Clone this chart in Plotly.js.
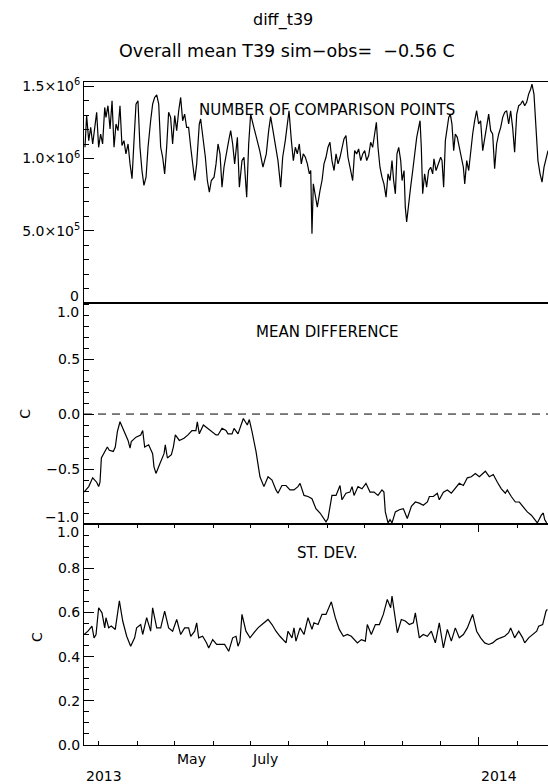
<!DOCTYPE html>
<html>
<head>
<meta charset="utf-8">
<script src="https://cdn.plot.ly/plotly-3.0.1.min.js"></script>
<style>
  html, body { margin: 0; padding: 0; background: #fff; }
  #chart { width: 548px; height: 784px; }
</style>
</head>
<body>
<div id="chart"></div>
<script>
// ---------------- DATA ----------------
// Series start date (day offsets below are counted from this date)
const seriesStart = '2013-02-17';
const axisEndDay = 373.9;

// Panel 1: number of comparison points (millions)
const countDays = [0.8,2.1,3.8,5.4,7.0,8.6,10.2,11.8,13.4,15.0,16.7,17.7,19.3,21.0,22.6,24.2,25.8,27.4,29.0,30.6,32.2,33.8,35.5,37.1,38.7,40.3,41.9,43.5,45.1,46.7,48.3,50.0,51.6,53.7,55.3,56.9,58.6,60.2,61.8,63.4,65.0,66.6,68.2,69.8,71.4,73.1,74.7,76.3,77.9,79.5,81.1,82.7,84.3,86.0,87.6,89.2,90.8,92.9,94.0,96.2,97.8,99.4,101.0,102.6,104.8,106.4,108.0,109.6,111.2,112.8,115.0,116.6,118.2,119.8,121.4,123.6,125.2,
  127.3,128.9,130.0,131.1,132.7,134.3,136.2,138.9,141.6,144.2,146.9,148.8,150.4,152.3,154.2,156.3,158.5,160.1,162.2,163.9,165.2,167.1,168.7,170.3,171.9,173.5,175.1,176.7,178.4,180.0,181.6,182.7,183.7,184.8,186.4,188.0,190.2,191.8,193.4,195.0,196.6,198.2,199.8,201.5,203.1,204.7,206.3,207.9,209.5,211.1,212.7,214.9,216.5,218.1,219.7,221.3,223.0,224.6,226.2,227.8,229.4,231.0,232.6,234.2,235.6,236.9,238.5,240.1,241.7,243.4,245.0,246.6,248.2,
  249.5,250.9,252.2,253.6,255.2,256.3,257.9,258.9,260.0,261.6,263.2,264.9,266.5,268.1,269.7,270.8,271.8,272.9,274.5,276.1,277.7,279.4,281.0,282.0,283.7,285.8,287.4,288.5,289.8,291.2,292.5,293.9,295.2,296.5,297.9,299.2,300.8,302.5,304.1,305.7,306.8,308.4,310.0,311.6,313.2,314.8,316.4,318.0,319.6,321.3,322.9,324.5,326.1,327.7,329.3,330.9,332.5,334.2,335.8,337.4,339.0,340.6,342.2,343.8,345.4,347.0,348.7,350.3,351.9,353.5,355.1,356.7,358.3,359.9,361.0,362.6,363.7,364.8,365.8,367.5,369.1,370.7,372.3,373.9];
const countMillions = [1.078,1.297,1.124,1.216,1.101,1.193,1.320,1.078,1.170,1.101,1.354,1.285,1.366,1.205,1.400,1.078,1.239,1.193,1.366,1.090,1.124,1.032,1.101,0.963,0.860,1.124,1.377,1.400,1.078,0.917,0.814,0.871,1.078,1.262,1.377,1.423,1.441,1.377,1.078,1.009,0.894,1.078,1.320,1.285,1.101,1.297,1.193,1.331,1.423,1.262,1.308,1.216,1.216,1.078,0.940,0.848,0.963,1.239,1.274,1.124,1.009,0.848,0.768,0.848,0.871,0.963,1.101,1.032,0.802,0.940,1.032,1.124,1.193,1.101,0.963,1.147,0.802,
  0.986,1.009,0.894,0.733,1.101,1.308,1.239,1.147,1.055,0.940,1.032,1.193,1.290,1.193,1.078,0.986,0.802,1.009,1.124,1.239,1.331,1.124,0.986,1.078,1.032,1.101,0.963,1.032,1.009,0.963,0.894,0.917,0.480,0.825,0.733,0.664,0.779,0.848,0.963,1.009,1.078,1.113,0.986,0.917,1.032,0.963,1.009,1.078,1.136,1.159,1.009,0.917,0.848,1.055,1.032,1.067,0.986,1.032,1.055,0.986,1.021,1.113,1.078,1.170,1.251,1.078,0.940,0.871,0.825,0.733,0.894,0.848,0.986,
  0.848,0.756,1.032,1.078,0.986,0.848,0.917,0.664,0.561,0.710,0.802,0.917,1.032,1.147,1.216,1.262,1.078,0.756,0.894,0.802,0.917,0.940,0.894,0.998,0.917,0.963,1.009,0.986,0.802,1.124,1.216,1.285,1.308,1.239,1.055,1.170,1.147,1.078,1.009,0.940,0.825,0.986,0.917,1.055,1.170,1.262,1.331,1.239,1.262,1.055,1.147,1.239,1.308,1.193,1.170,0.929,1.101,1.170,1.216,1.285,1.320,1.331,1.239,1.331,1.216,1.044,1.308,1.366,1.377,1.400,1.366,1.389,1.446,1.480,1.515,1.446,1.308,1.124,0.986,0.894,0.837,0.940,1.009,1.055];

// Panel 2: mean difference (C)
const meanDays = [0.0,3.8,7.0,10.2,11.8,12.9,14.0,17.2,18.8,20.4,23.6,25.2,26.9,29.0,32.2,35.5,37.1,38.1,41.9,45.7,47.3,48.9,52.1,55.3,56.4,58.0,61.2,64.5,65.5,67.2,70.4,72.0,73.6,76.8,80.6,83.8,87.0,90.2,91.3,92.9,96.2,99.4,102.6,106.4,108.0,111.2,114.4,116.0,119.3,120.9,124.1,125.7,128.4,131.6,133.2,135.4,138.6,141.8,145.0,148.3,151.5,154.7,156.3,159.5,162.8,166.0,169.2,172.4,174.1,177.3,180.5,183.7,186.9,190.2,193.4,195.0,196.6,199.8,203.1,206.3,207.9,211.1,214.3,216.0,217.6,220.8,224.0,227.2,230.5,233.7,236.9,240.1,241.7,242.8,245.0,246.6,248.2,250.9,254.1,257.3,260.5,263.8,267.0,270.2,273.4,276.7,278.3,281.5,284.7,286.3,289.6,292.8,296.0,299.2,302.4,305.7,308.9,312.1,315.3,318.6,321.8,323.4,326.6,329.8,333.1,336.3,339.5,341.1,344.3,347.6,350.8,354.0,357.2,360.5,363.7,365.3,368.5,370.1,371.2,372.8];
const meanDiff = [-0.71,-0.66,-0.58,-0.62,-0.66,-0.62,-0.40,-0.34,-0.30,-0.33,-0.34,-0.30,-0.16,-0.07,-0.15,-0.24,-0.31,-0.25,-0.21,-0.19,-0.15,-0.30,-0.28,-0.36,-0.48,-0.54,-0.45,-0.36,-0.28,-0.40,-0.37,-0.30,-0.19,-0.24,-0.22,-0.19,-0.15,-0.15,-0.07,-0.18,-0.10,-0.13,-0.16,-0.19,-0.19,-0.13,-0.15,-0.18,-0.18,-0.13,-0.18,-0.13,-0.04,-0.10,-0.05,-0.16,-0.34,-0.57,-0.66,-0.57,-0.60,-0.69,-0.72,-0.65,-0.65,-0.69,-0.69,-0.66,-0.63,-0.74,-0.75,-0.77,-0.86,-0.90,-0.95,-0.98,-0.95,-0.74,-0.74,-0.65,-0.78,-0.72,-0.71,-0.66,-0.74,-0.66,-0.68,-0.63,-0.71,-0.71,-0.74,-0.69,-0.71,-0.89,-0.99,-0.96,-0.99,-0.89,-0.87,-0.86,-0.95,-0.84,-0.80,-0.81,-0.83,-0.80,-0.75,-0.75,-0.72,-0.78,-0.71,-0.69,-0.72,-0.68,-0.63,-0.65,-0.58,-0.57,-0.54,-0.57,-0.54,-0.52,-0.57,-0.55,-0.62,-0.68,-0.72,-0.69,-0.75,-0.80,-0.80,-0.84,-0.89,-0.92,-0.96,-0.99,-0.92,-0.90,-0.96,-0.99];

// Panel 3: standard deviation (C)
const sdDays = [0.0,3.2,6.4,8.1,9.7,11.8,14.5,16.7,17.7,19.9,22.0,25.2,28.5,31.2,34.4,37.6,40.8,42.4,45.7,47.3,50.5,53.7,55.3,58.6,61.8,65.0,68.2,71.4,74.7,77.9,81.1,84.3,86.0,89.2,90.8,92.4,95.6,98.8,100.5,103.7,106.9,110.1,113.3,116.6,119.8,122.5,124.1,125.7,127.3,130.5,133.8,137.0,140.2,143.4,146.7,148.3,151.5,154.7,157.9,161.2,162.8,164.4,167.6,169.2,170.8,174.1,177.3,180.5,183.7,185.3,188.6,191.8,195.0,199.3,202.5,205.7,209.0,212.2,215.4,220.3,223.5,226.7,228.3,231.5,234.8,238.0,241.2,244.4,247.1,248.2,250.9,252.5,255.7,258.9,262.2,265.4,267.0,270.2,273.4,276.7,279.9,283.1,286.3,289.6,292.8,296.0,299.2,302.4,305.7,308.9,312.1,313.2,316.4,319.6,322.9,326.1,329.3,332.5,335.7,339.0,342.2,343.8,347.0,350.3,353.5,355.1,358.3,361.5,364.8,366.4,369.6,372.3,373.4];
const sdVals = [0.500,0.515,0.538,0.485,0.500,0.621,0.598,0.530,0.576,0.530,0.538,0.523,0.652,0.561,0.492,0.447,0.485,0.530,0.545,0.500,0.576,0.515,0.621,0.530,0.530,0.606,0.530,0.515,0.568,0.500,0.530,0.530,0.492,0.515,0.553,0.485,0.492,0.462,0.439,0.477,0.455,0.455,0.455,0.424,0.485,0.492,0.447,0.470,0.591,0.515,0.485,0.508,0.530,0.545,0.561,0.568,0.545,0.515,0.492,0.470,0.462,0.515,0.485,0.530,0.470,0.530,0.500,0.576,0.523,0.553,0.545,0.591,0.591,0.648,0.576,0.523,0.492,0.500,0.492,0.462,0.477,0.470,0.545,0.500,0.545,0.545,0.591,0.659,0.621,0.674,0.561,0.508,0.568,0.561,0.545,0.553,0.598,0.485,0.500,0.492,0.515,0.462,0.553,0.439,0.523,0.470,0.530,0.485,0.500,0.530,0.576,0.591,0.515,0.485,0.462,0.455,0.462,0.477,0.485,0.492,0.508,0.530,0.485,0.515,0.485,0.462,0.485,0.500,0.515,0.538,0.545,0.606,0.614];

// Tick labels (interior ticks drawn by the axes; panel-edge labels drawn separately)
const countTickVals = [5e5, 1e6, 1.5e6];
const countTickText = ['5.0×10<sup>5</sup>', '1.0×10<sup>6</sup>', '1.5×10<sup>6</sup>'];
const meanTickVals = [-0.5, 0, 0.5];
const meanTickText = ['−0.5', '0.0', '0.5'];
const sdTickVals = [0, 0.2, 0.4, 0.6, 0.8];
const sdTickText = ['0.0', '0.2', '0.4', '0.6', '0.8'];
// [axis, value, text, vertical nudge in px]
const edgeTickLabels = [
  ['y', 0, '0', 7],
  ['y2', 1.0, '1.0', -8],
  ['y2', -1.0, '−1.0', 7],
  ['y3', 1.0, '1.0', -8]
];
const monthTicks = ['2013-03-01','2013-04-01','2013-05-01','2013-06-01','2013-07-01','2013-08-01','2013-09-01','2013-10-01','2013-11-01','2013-12-01','2014-02-01'];
const yearTicks = ['2014-01-01'];
const monthLabels = [['2013-05-01', 'May'], ['2013-07-01', 'July']];
const yearLabels = [['2013-02-17', '2013'], ['2014-01-01', '2014']];

// ---------------- HELPERS ----------------
const startMs = Date.parse(seriesStart + 'T00:00:00Z');
function dayToDate(d) {
  return new Date(startMs + d * 86400000).toISOString().slice(0, 19).replace('T', ' ');
}
const xRange = [dayToDate(0), dayToDate(axisEndDay)];

const FONT = 'DejaVu Sans, Liberation Sans, sans-serif';
const TICKSIZE = 14;
const lineStyle = { color: '#000', width: 1.2 };

const traces = [
  { x: countDays.map(dayToDate), y: countMillions.map(v => v * 1e6), xaxis: 'x', yaxis: 'y',
    mode: 'lines', line: lineStyle, hoverinfo: 'skip' },
  { x: meanDays.map(dayToDate), y: meanDiff, xaxis: 'x2', yaxis: 'y2',
    mode: 'lines', line: lineStyle, hoverinfo: 'skip' },
  { x: sdDays.map(dayToDate), y: sdVals, xaxis: 'x3', yaxis: 'y3',
    mode: 'lines', line: lineStyle, hoverinfo: 'skip' }
];

function linTicks(a, b, step) {
  const out = [];
  for (let v = a; v <= b + 1e-9; v += step) out.push(+v.toFixed(6));
  return out;
}

const baseX = {
  type: 'date', range: xRange, showgrid: false, zeroline: false,
  showline: true, linecolor: '#000', linewidth: 1, mirror: true,
  ticks: '', showticklabels: false, fixedrange: true
};
const minorY = { tickmode: 'array', ticks: 'inside', ticklen: 5, tickwidth: 1, tickcolor: '#000' };
const baseY = {
  showgrid: false, zeroline: false, showline: true, linecolor: '#000', linewidth: 1,
  mirror: false, ticks: 'inside', ticklen: 10, tickwidth: 1, tickcolor: '#000',
  tickmode: 'array', tickfont: { family: FONT, size: TICKSIZE, color: '#000' }, fixedrange: true
};

const txt = (size) => ({ family: FONT, size: size, color: '#000' });

const layout = {
  width: 548, height: 784,
  margin: { l: 84, r: 0, t: 82, b: 39 },
  paper_bgcolor: '#fff', plot_bgcolor: '#fff',
  showlegend: false,
  font: { family: FONT, color: '#000' },
  xaxis: Object.assign({}, baseX, { anchor: 'y', domain: [0, 1] }),
  xaxis2: Object.assign({}, baseX, { anchor: 'y2', domain: [0, 1] }),
  xaxis3: Object.assign({}, baseX, {
    anchor: 'y3', domain: [0, 1], ticks: 'inside', mirror: 'ticks', showticklabels: false,
    tickmode: 'array', tickvals: yearTicks,
    ticklen: 8, tickwidth: 1, tickcolor: '#000',
    minor: { tickmode: 'array', tickvals: monthTicks, ticks: 'inside', ticklen: 4, tickwidth: 1, tickcolor: '#000' }
  }),
  yaxis: Object.assign({}, baseY, {
    domain: [2/3, 1], anchor: 'x', range: [0, 1.53e6],
    tickvals: countTickVals, ticktext: countTickText,
    minor: Object.assign({}, minorY, { tickvals: linTicks(0, 1.5e6, 1e5) })
  }),
  yaxis2: Object.assign({}, baseY, {
    domain: [1/3, 2/3], anchor: 'x2', range: [-1, 1.01],
    tickvals: meanTickVals, ticktext: meanTickText,
    minor: Object.assign({}, minorY, { tickvals: linTicks(-1, 1, 0.1) })
  }),
  yaxis3: Object.assign({}, baseY, {
    domain: [0, 1/3], anchor: 'x3', range: [0, 1.0],
    tickvals: sdTickVals, ticktext: sdTickText,
    minor: Object.assign({}, minorY, { tickvals: linTicks(0, 1, 0.05) })
  }),
  shapes: [
    { type: 'line', xref: 'x2 domain', yref: 'y2', x0: 0, x1: 1, y0: 0, y1: 0,
      line: { color: '#000', width: 1, dash: '8px,6px' } }
  ],
  annotations: [
    { text: 'diff_t39', xref: 'paper', yref: 'paper', x: 0.429, y: 1.0935, xanchor: 'center', yanchor: 'middle',
      showarrow: false, font: txt(16) },
    { text: 'Overall mean T39 sim−obs=\u00a0\u00a0−0.56 C', xref: 'paper', yref: 'paper', x: 0.437, y: 1.0468,
      xanchor: 'center', yanchor: 'middle', showarrow: false, font: txt(17.5) },
    { text: 'NUMBER OF COMPARISON POINTS', xref: 'paper', yref: 'paper', x: 0.524, y: 0.9578,
      xanchor: 'center', yanchor: 'middle', showarrow: false, font: txt(15) },
    { text: 'MEAN DIFFERENCE', xref: 'paper', yref: 'paper', x: 0.524, y: 0.6229,
      xanchor: 'center', yanchor: 'middle', showarrow: false, font: txt(15) },
    { text: 'ST. DEV.', xref: 'paper', yref: 'paper', x: 0.524, y: 0.2896,
      xanchor: 'center', yanchor: 'middle', showarrow: false, font: txt(15) },
    { text: 'C', xref: 'paper', yref: 'paper', x: -0.129, y: 0.5, textangle: -90,
      xanchor: 'center', yanchor: 'middle', showarrow: false, font: txt(14) },
    { text: 'C', xref: 'paper', yref: 'paper', x: -0.101, y: 0.163, textangle: -90,
      xanchor: 'center', yanchor: 'middle', showarrow: false, font: txt(14) }
  ].concat(edgeTickLabels.map(e => ({
    text: e[2], xref: 'paper', yref: e[0], x: 0, y: e[1], xanchor: 'right', yanchor: 'middle',
    xshift: -3, yshift: e[3], showarrow: false, font: txt(TICKSIZE)
  }))).concat(monthLabels.map(m => ({
    text: m[1], xref: 'x3', yref: 'paper', x: m[0], y: -0.0211, xanchor: 'left', yanchor: 'middle',
    showarrow: false, font: txt(14)
  }))).concat(yearLabels.map(m => ({
    text: m[1], xref: 'x3', yref: 'paper', x: m[0], y: -0.0468, xanchor: 'left', yanchor: 'middle',
    showarrow: false, font: txt(14)
  })))
};

Plotly.newPlot('chart', traces, layout, { displayModeBar: false, staticPlot: true });
</script>
</body>
</html>
